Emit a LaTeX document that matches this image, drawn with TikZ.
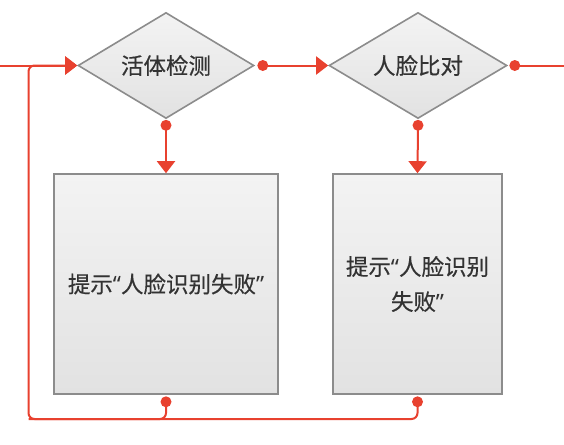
\documentclass[tikz,border=0pt]{standalone}
\usepackage{fontspec}
\newfontfamily\cjk[FakeBold=0.4]{Noto Sans CJK SC}
\newfontfamily\latq{Noto Sans}
\newcommand{\openq}{{\latq “}}
\newcommand{\closeq}{{\latq ”}}
\usetikzlibrary{shapes.geometric,arrows.meta}
\definecolor{linered}{HTML}{E8412F}
\definecolor{edgegray}{HTML}{8C8C8C}
\definecolor{txtgray}{HTML}{333333}
\definecolor{filltop}{HTML}{F3F3F3}
\definecolor{fillbot}{HTML}{E2E2E2}
\begin{document}
\begin{tikzpicture}[x=1pt,y=-1pt,
  shapebase/.style={draw=edgegray,line width=1.6pt,top color=filltop,bottom color=fillbot,
    text=txtgray,font=\cjk\fontsize{22.5pt}{35pt}\selectfont,inner sep=0pt},
  decide/.style={shapebase,diamond,aspect=1.68,minimum width=#1,minimum height=106pt},
  stepbox/.style={shapebase,rectangle,minimum width=#1,minimum height=220pt,align=center},
  redline/.style={draw=linered,line width=2pt},
  tip/.style={-{Triangle[width=18pt,length=12pt]}},
  dotmark/.style={fill=linered}]
\useasboundingbox (0,0) rectangle (564,444);
\node[decide=176pt] (d1) at (166,65.5) {活体检测};
\node[decide=178pt] (d2) at (418,65.5) {人脸比对};
\node[stepbox=224pt] (b1) at (166,284) {提示\openq 人脸识别失败\closeq};
\node[stepbox=169pt] (b2) at (417.5,284) {提示\openq 人脸识别\\失败\closeq};
\coordinate (d1s) at ([yshift=-6pt]d1.south);
\coordinate (d2s) at ([yshift=-6pt]d2.south);
\coordinate (d1e) at ([xshift=8pt]d1.east);
\coordinate (d2e) at ([xshift=7pt]d2.east);
\coordinate (b1s) at ([yshift=-7pt]b1.south);
\coordinate (b2s) at ([yshift=-7pt]b2.south);
\coordinate (lin) at (0,65.5);
\coordinate (rout) at (564,65.5);
\coordinate (loop) at (28.5,419);
% connectors
\draw[redline,tip] (lin) -- (d1.west);
\draw[redline,tip] (d1s) -- (b1.north);
\draw[redline,tip] (d2s) -- (b2.north);
\draw[redline,tip] (d1e) -- (d2.west);
\draw[redline] (d2e) -- (rout);
\draw[redline,rounded corners=6pt] (b1s) |- (loop);
\draw[redline,rounded corners=6pt,tip] (b2s) |- (loop) |- (d1.west);
% dots
\foreach \p in {d1s,d2s,d1e,d2e,b1s,b2s} \fill[dotmark] (\p) circle (5.5pt);
\end{tikzpicture}
\end{document}
